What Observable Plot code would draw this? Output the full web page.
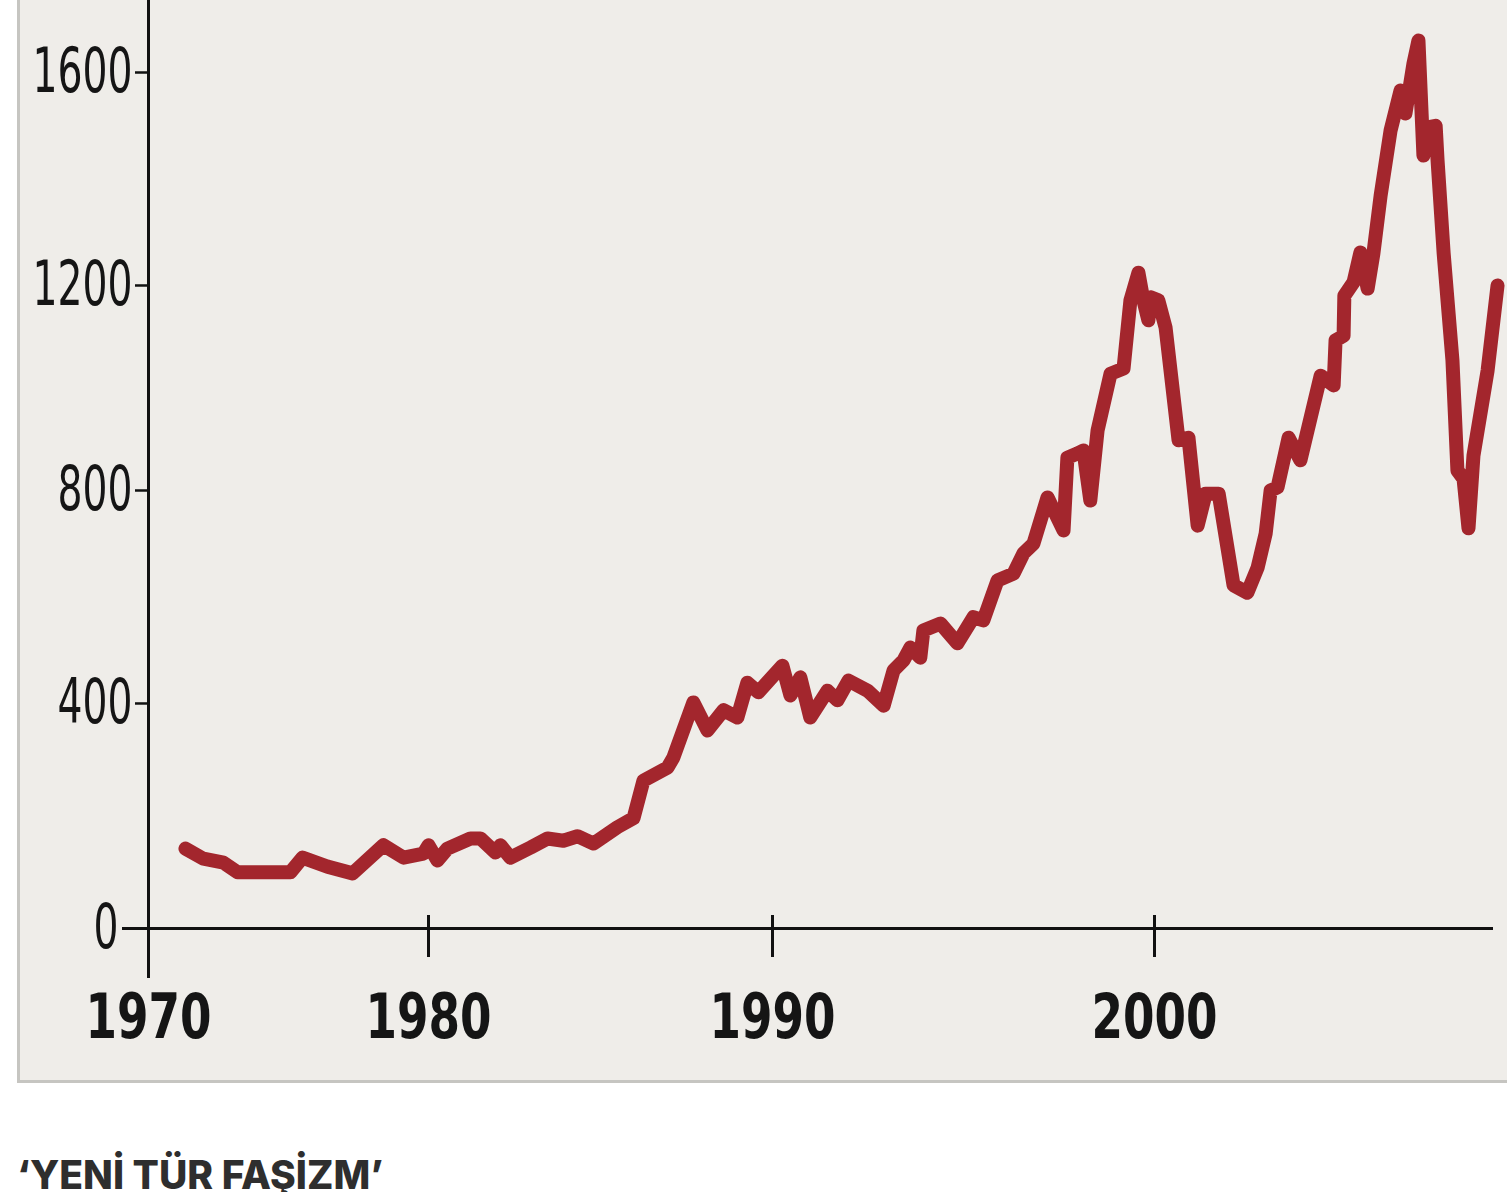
<!DOCTYPE html>
<html><head><meta charset="utf-8">
<script src="https://cdn.jsdelivr.net/npm/d3@7"></script>
<script src="https://cdn.jsdelivr.net/npm/@observablehq/plot@0.6"></script>
<style>
html,body{margin:0;padding:0;background:#fff;width:1507px;height:1192px;overflow:hidden;position:relative;}
#panel{position:absolute;left:17px;top:0;width:1490px;height:1083px;background:#efede9;border-left:3px solid #c6c5c1;border-bottom:3px solid #c6c5c1;box-sizing:border-box;}
#chart{position:absolute;left:0;top:0;}
#chart svg{background:transparent !important;overflow:visible;}
#caption{position:absolute;left:17px;top:1155px;font-family:Inter,"Open Sans",sans-serif;font-weight:800;font-size:39px;line-height:40px;color:#2e2e2e;white-space:nowrap;}
</style></head><body>
<div id="panel"></div>
<div id="chart"></div>
<div id="caption">‘YENİ TÜR FAŞİZM’</div>
<script>
const years = [1971.32,1971.96,1972.68,1973.18,1975.07,1975.5,1976.39,1977.29,1978.39,1979.11,
1979.82,1980.0,1980.26,1980.55,1981.22,1981.51,1981.95,1982.09,1982.38,1982.97,
1983.46,1983.92,1984.33,1984.80,1985.49,1985.96,1986.25,1986.95,1987.12,1987.70,
1988.11,1988.58,1988.98,1989.27,1989.59,1990.26,1990.47,1990.73,1990.99,1991.44,
1991.70,1991.99,1992.49,1992.91,1993.17,1993.43,1993.61,1993.87,1993.95,1994.40,
1994.84,1995.26,1995.52,1995.89,1996.31,1996.57,1996.83,1997.20,1997.62,1997.72,
1997.98,1998.14,1998.32,1998.51,1998.85,1999.19,1999.37,1999.58,1999.71,1999.84,
1999.90,2000.10,2000.29,2000.63,2000.89,2001.13,2001.34,2001.68,2002.07,2002.43,
2002.70,2002.91,2003.04,2003.22,2003.51,2003.82,2004.35,2004.69,2004.74,2004.95,
2004.97,2005.21,2005.39,2005.58,2005.73,2005.92,2006.18,2006.44,2006.57,2006.78,
2006.91,2007.04,2007.15,2007.36,2007.41,2007.57,2007.80,2007.93,2008.09,2008.22,
2008.35,2008.72,2008.98];
const values = [142,124,117,100,100,126,110,98,148,126,
133,148,121,142,160,160,135,148,126,144,
160,156,164,151,180,196,263,286,304,402,
352,388,375,439,421,471,415,449,375,424,
406,443,424,396,462,481,505,486,537,550,
513,562,556,631,644,682,700,787,725,864,
872,878,781,917,1028,1038,1171,1224,1171,1132,
1177,1171,1118,898,903,734,794,794,622,608,
655,719,800,806,903,859,1024,1005,1093,1102,
1180,1206,1262,1194,1260,1369,1491,1566,1523,1617,
1660,1444,1497,1500,1435,1260,1054,839,823,729,
868,1034,1200];
const xTicks = [1970, 1980, 1990, 2000];
const yTicks = [0, 400, 800, 1200, 1600];
const xBreaks = [1970, 1980, 1990, 2000, 2010];

// The printed chart's decades (and value steps) are unevenly spaced; warp the
// axes so each mark falls where the original shows it (end points fixed).
const warpX = d3.scaleLinear().domain(xBreaks).range([1970, 1978.069, 1987.982, 1998.991, 2010]);
const warpY = d3.scaleLinear().domain(yTicks).range([0, 420.6, 818.7, 1201.9, 1600]);

const data = years.map((year, i) => ({year, value: values[i]}));

const yFont = "'DejaVu Sans Condensed', 'DejaVu Sans', sans-serif";
const xFont = "'DejaVu Sans', sans-serif";

const chart = Plot.plot({
  width: 1507,
  height: 1085,
  marginTop: 0,
  marginLeft: 148,
  marginRight: 14,
  marginBottom: 107,
  style: {background: "transparent"},
  x: {transform: warpX, domain: [1970, 2010], range: [148, 1536], axis: null},
  y: {transform: warpY, domain: [0, 1600], range: [928, 72], axis: null},
  marks: [
    // axis lines
    Plot.ruleX([xTicks[0]], {stroke: "#111", strokeWidth: 3}),
    Plot.ruleY([yTicks[0]], {stroke: "#111", strokeWidth: 3, insetLeft: -26}),
    // x ticks crossing the axis
    Plot.ruleX(xTicks.slice(1), {stroke: "#111", strokeWidth: 3, insetTop: 915, insetBottom: 21}),
    // y ticks to the left of the axis
    Plot.ruleY(yTicks.slice(1), {stroke: "#111", strokeWidth: 2.5, insetLeft: -13, insetRight: 1345}),
    // y labels
    Plot.text(yTicks.slice(1), {y: d => d, text: d => String(d), frameAnchor: "left", dx: -16,
      textAnchor: "end", lineAnchor: "middle", fontSize: 62, fill: "#151515", fontFamily: yFont}),
    Plot.text(yTicks.slice(0, 1), {y: d => d, text: d => String(d), frameAnchor: "left", dx: -30,
      textAnchor: "end", lineAnchor: "middle", fontSize: 62, fill: "#151515", fontFamily: yFont}),
    // x labels
    Plot.text(xTicks, {x: d => d, text: d => String(d), frameAnchor: "bottom", dy: 40,
      lineAnchor: "middle", fontSize: 62, fontWeight: "bold", fill: "#151515", fontFamily: xFont}),
    // series
    Plot.line(data, {x: "year", y: "value", stroke: "#a3262d", strokeWidth: 14,
      strokeLinejoin: "round", strokeLinecap: "round"})
  ]
});

// Condense the tick labels to the narrow face used in print.
chart.querySelectorAll("text").forEach(t => {
  const s = t.textContent, n = Number(s);
  if (xTicks.includes(n) && s.length === 4) {
    t.setAttribute("textLength", 126);
    t.setAttribute("lengthAdjust", "spacingAndGlyphs");
  } else if (yTicks.includes(n)) {
    t.setAttribute("textLength", s.length * 25);
    t.setAttribute("lengthAdjust", "spacingAndGlyphs");
  }
});
document.getElementById("chart").appendChild(chart);
</script>
</body></html>
